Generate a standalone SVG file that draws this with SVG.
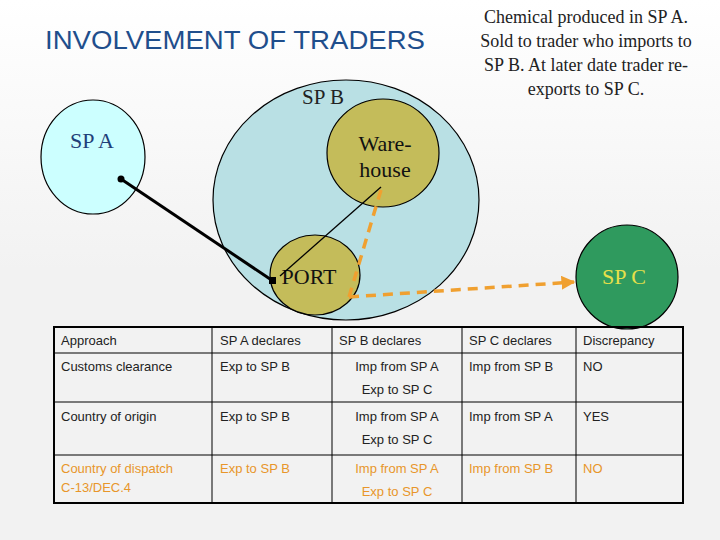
<svg xmlns="http://www.w3.org/2000/svg" width="720" height="540" viewBox="0 0 720 540">
<defs>
<linearGradient id="bg" x1="0" y1="0" x2="0" y2="1"><stop offset="0" stop-color="#ffffff"/><stop offset="0.5" stop-color="#f2f2f2"/><stop offset="1" stop-color="#f2f2f2"/></linearGradient>
<marker id="oa" viewBox="0 0 10 10" refX="9" refY="5" markerWidth="4" markerHeight="4" orient="auto"><path d="M0,0L10,5L0,10z" fill="#f0a030"/></marker>
</defs>
<style>
.ser{font-family:"Liberation Serif",serif}
.san{font-family:"Liberation Sans",Arial,sans-serif;font-size:13px;fill:#222}
.ol{stroke:#000;stroke-width:1.2}
.dash{stroke:#f0a030;stroke-width:3.5;stroke-dasharray:10,7;fill:none}
</style>
<rect width="720" height="540" fill="url(#bg)"/>
<text x="45" y="49" font-family="Liberation Sans,sans-serif" font-size="25" fill="#1f4e8c" textLength="380" lengthAdjust="spacingAndGlyphs">INVOLVEMENT OF TRADERS</text>
<g class="ser" font-size="18" fill="#222" text-anchor="middle">
<text x="586" y="23">Chemical produced in SP A.</text>
<text x="586" y="47">Sold to trader who imports to</text>
<text x="586" y="71">SP B. At later date trader re-</text>
<text x="586" y="95">exports to SP C.</text>
</g>
<g id="spb"><ellipse cx="346" cy="200" rx="133" ry="120" fill="#b9e0e4" class="ol"/><text x="323" y="104" class="ser" font-size="21" fill="#222" text-anchor="middle">SP B</text></g>
<g id="spa"><ellipse cx="93" cy="157" rx="52" ry="57" fill="#ccffff" class="ol"/><text x="92" y="148" class="ser" font-size="22" fill="#1f3f7a" text-anchor="middle">SP A</text></g>
<g id="warehouse"><ellipse cx="383" cy="153" rx="56" ry="54" fill="#c4bc5a" class="ol"/><text x="385" y="151" class="ser" font-size="22" fill="#111" text-anchor="middle">Ware-</text><text x="385" y="177" class="ser" font-size="22" fill="#111" text-anchor="middle">house</text></g>
<g id="port"><ellipse cx="315" cy="275" rx="45" ry="40" fill="#c4bc5a" class="ol"/><text x="309" y="284" class="ser" font-size="22" fill="#111" text-anchor="middle">PORT</text></g>
<g id="spc"><ellipse cx="627" cy="277" rx="51" ry="52" fill="#2f9a5e" class="ol"/><text x="624" y="284" class="ser" font-size="22" fill="#e6e04a" text-anchor="middle">SP C</text></g>
<g id="connectors">
<line x1="121" y1="179" x2="273" y2="281" stroke="#000" stroke-width="3"/>
<circle cx="121" cy="179" r="3.5" fill="#000"/>
<rect x="269" y="277" width="7" height="7" fill="#000"/>
<line x1="280" y1="276" x2="381" y2="187" stroke="#000" stroke-width="1.3"/>
<path d="M381,190 L349,297" class="dash"/>
<path d="M349,297 L574,282" class="dash" marker-end="url(#oa)"/>
</g>
<g id="table">
<rect x="54" y="327" width="629" height="176" fill="none" stroke="#000" stroke-width="2"/>
<g stroke="#000" stroke-width="1">
<line x1="54" y1="353" x2="683" y2="353"/><line x1="54" y1="402" x2="683" y2="402"/><line x1="54" y1="455" x2="683" y2="455"/>
<line x1="212" y1="327" x2="212" y2="503"/><line x1="332" y1="327" x2="332" y2="503"/><line x1="462" y1="327" x2="462" y2="503"/><line x1="576" y1="327" x2="576" y2="503"/>
</g>
<g class="san">
<text x="61" y="345">Approach</text><text x="220" y="345">SP A declares</text><text x="339" y="345">SP B declares</text><text x="469" y="345">SP C declares</text><text x="583" y="345">Discrepancy</text>
<text x="61" y="371">Customs clearance</text><text x="220" y="371">Exp to SP B</text><text x="397" y="371" text-anchor="middle">Imp from SP A</text><text x="397" y="394" text-anchor="middle">Exp to SP C</text><text x="469" y="371">Imp from SP B</text><text x="583" y="371">NO</text>
<text x="61" y="421">Country of origin</text><text x="220" y="421">Exp to SP B</text><text x="397" y="421" text-anchor="middle">Imp from SP A</text><text x="397" y="444" text-anchor="middle">Exp to SP C</text><text x="469" y="421">Imp from SP A</text><text x="583" y="421">YES</text>
</g>
<g class="san" style="fill:#e8962a">
<text x="61" y="473">Country of dispatch</text><text x="61" y="492">C-13/DEC.4</text><text x="220" y="473">Exp to SP B</text><text x="397" y="473" text-anchor="middle">Imp from SP A</text><text x="397" y="496" text-anchor="middle">Exp to SP C</text><text x="469" y="473">Imp from SP B</text><text x="583" y="473">NO</text>
</g>
</g>
</svg>
